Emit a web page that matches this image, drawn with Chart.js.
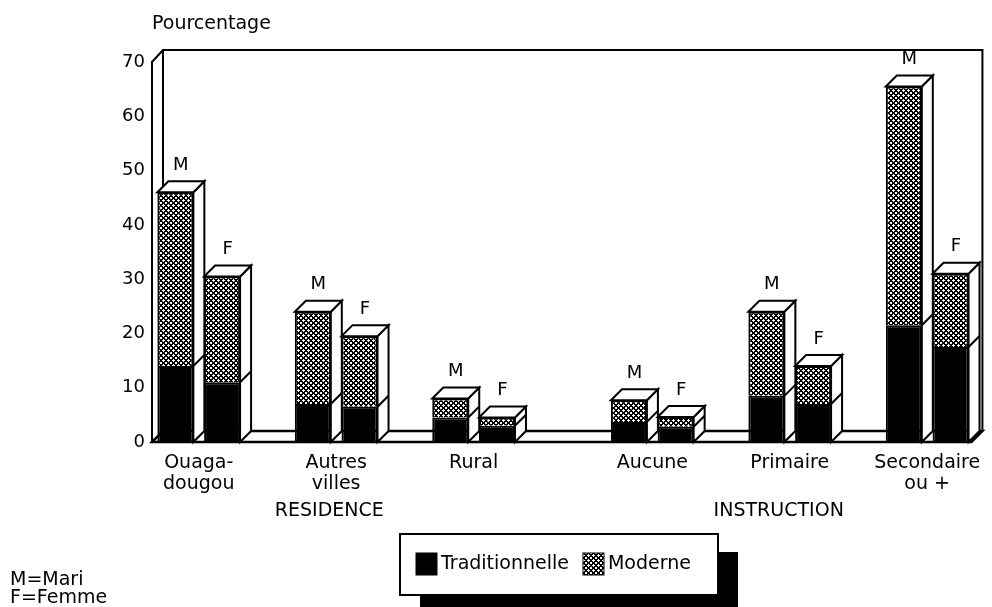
<!DOCTYPE html>
<html>
<head>
<meta charset="utf-8">
<script src="https://cdn.jsdelivr.net/npm/chart.js@4.4.0/dist/chart.umd.min.js"></script>
<style>
  html, body { margin: 0; padding: 0; background: #fff; }
  #cadre { width: 992px; height: 607px; }
</style>
</head>
<body>
<div id="cadre"><canvas id="id-grafico" width="992" height="607"></canvas></div>
<script>
// categories: 3 de residence, 3 d'instruction
const categorias = [['Ouaga-', 'dougou'], ['Autres', 'villes'], 'Rural', 'Aucune', 'Primaire', ['Secondaire', 'ou +']];
const tradMari   = [14, 7, 4.5, 3.7, 8.5, 21.5];
const modMari    = [32, 17, 3.5, 4, 15.5, 44];
const tradFemme  = [11, 6.5, 3, 2.8, 7, 17.5];
const modFemme   = [19.5, 13, 1.5, 1.8, 7, 13.5];
const etiquetas  = ['M', 'F'];
const leyenda    = ['Traditionnelle', 'Moderne'];
const grupos     = ['RESIDENCE', 'INSTRUCTION'];
const notas      = ['M=Mari', 'F=Femme'];

const FUENTE = 'DejaVu Sans';
const PROF = 11;          // profondeur 3D des barres et des murs

// un petit espace entre les deux blocs de categories
const posiciones = categorias.map((c, i) => i + (i >= 3 ? 0.3 : 0));
const puntos = (arr) => arr.map((v, i) => ({x: posiciones[i], y: v}));

// trame croisee pour "Moderne"
function motif() {
  const n = 5;
  const c = document.createElement('canvas');
  c.width = n; c.height = n;
  const g = c.getContext('2d');
  g.fillStyle = '#fff';
  g.fillRect(0, 0, n, n);
  g.fillStyle = '#000';
  for (let x = 0; x < n; x++) {
    for (let y = 0; y < n; y++) {
      if ((x + y) % n < 2 || (x - y + n) % n < 2) g.fillRect(x, y, 1, 1);
    }
  }
  return g.createPattern(c, 'repeat');
}
const trama = motif();

const murs = {
  id: 'murs',
  beforeDatasetsDraw(chart) {
    const ctx = chart.ctx;
    const a = chart.chartArea;
    ctx.save();
    ctx.strokeStyle = '#000';
    ctx.lineWidth = 2;
    // mur du fond + mur gauche
    ctx.beginPath();
    ctx.moveTo(a.left, a.bottom);
    ctx.lineTo(a.left, a.top);
    ctx.lineTo(a.left + PROF, a.top - PROF - 1);
    ctx.lineTo(a.right + PROF, a.top - PROF - 1);
    ctx.lineTo(a.right + PROF, a.bottom - PROF);
    ctx.moveTo(a.left + PROF, a.top - PROF - 1);
    ctx.lineTo(a.left + PROF, a.bottom - PROF);
    ctx.stroke();
    // plancher
    ctx.beginPath();
    ctx.moveTo(a.left, a.bottom);
    ctx.lineTo(a.right, a.bottom);
    ctx.lineTo(a.right + PROF, a.bottom - PROF);
    ctx.lineTo(a.left + PROF, a.bottom - PROF);
    ctx.closePath();
    ctx.fillStyle = '#fff';
    ctx.fill();
    ctx.lineWidth = 2.5;
    ctx.stroke();
    ctx.restore();
  },
  afterDatasetsDraw(chart) {
    const ctx = chart.ctx;
    ctx.save();
    ctx.strokeStyle = '#000';
    ctx.lineWidth = 2;
    [[0, 1], [2, 3]].forEach((par, k) => {
      const bajo = chart.getDatasetMeta(par[0]).data;
      const alto = chart.getDatasetMeta(par[1]).data;
      alto.forEach((b, i) => {
        const t = bajo[i];
        const L = b.x - b.width / 2, R = b.x + b.width / 2;
        const top = b.y, mid = t.y, base = t.base;
        // face laterale
        ctx.beginPath();
        ctx.moveTo(R, top);
        ctx.lineTo(R + PROF, top - PROF);
        ctx.lineTo(R + PROF, base - PROF);
        ctx.lineTo(R, base);
        ctx.closePath();
        ctx.fillStyle = '#fff';
        ctx.fill();
        ctx.stroke();
        ctx.beginPath();
        ctx.moveTo(R, mid);
        ctx.lineTo(R + PROF, mid - PROF);
        ctx.stroke();
        // dessus
        ctx.beginPath();
        ctx.moveTo(L, top);
        ctx.lineTo(L + PROF, top - PROF);
        ctx.lineTo(R + PROF, top - PROF);
        ctx.lineTo(R, top);
        ctx.closePath();
        ctx.fill();
        ctx.stroke();
        // M / F
        ctx.fillStyle = '#000';
        ctx.font = '18px "' + FUENTE + '"';
        ctx.textAlign = 'center';
        ctx.textBaseline = 'middle';
        ctx.fillText(etiquetas[k], b.x + PROF / 2, top - PROF - 16);
      });
    });
    ctx.restore();
  },
  afterDraw(chart) {
    const ctx = chart.ctx;
    const xs = chart.scales.x;
    ctx.save();
    ctx.fillStyle = '#000';
    ctx.textBaseline = 'middle';
    ctx.textAlign = 'left';
    ctx.font = '19px "' + FUENTE + '"';
    ctx.fillText('Pourcentage', chart.chartArea.left, 24);

    ctx.textAlign = 'center';
    ctx.fillText(grupos[0], xs.getPixelForValue(0.95), 511);
    ctx.fillText(grupos[1], xs.getPixelForValue(4.22), 511);

    ctx.textAlign = 'left';
    ctx.fillText(notas[0], 10, 580);
    ctx.fillText(notas[1], 10, 598);

    // legende avec ombre
    const bx = 400, by = 534, bw = 318, bh = 61;
    ctx.fillStyle = '#000';
    ctx.fillRect(bx + 20, by + 18, bw, bh);
    ctx.fillStyle = '#fff';
    ctx.fillRect(bx, by, bw, bh);
    ctx.strokeStyle = '#000';
    ctx.lineWidth = 2;
    ctx.strokeRect(bx, by, bw, bh);
    const rellenos = ['#000', trama];
    let x = bx + 16;
    const cy = by + 30;
    leyenda.forEach((txt, i) => {
      ctx.fillStyle = rellenos[i];
      ctx.fillRect(x, cy - 11, 21, 22);
      ctx.lineWidth = 1;
      ctx.strokeRect(x, cy - 11, 21, 22);
      x += 25;
      ctx.fillStyle = '#000';
      ctx.fillText(txt, x, cy);
      x += ctx.measureText(txt).width + 14;
    });
    ctx.restore();
  }
};

const barra = {
  borderColor: '#000',
  borderWidth: 2,
  categoryPercentage: 0.68,
  barPercentage: 0.77
};

new Chart('id-grafico', {
  type: 'bar',
  data: {
    datasets: [
      Object.assign({label: leyenda[0], data: puntos(tradMari), stack: 'M', backgroundColor: '#000'}, barra),
      Object.assign({label: leyenda[1], data: puntos(modMari), stack: 'M', backgroundColor: trama}, barra),
      Object.assign({label: leyenda[0], data: puntos(tradFemme), stack: 'F', backgroundColor: '#000'}, barra),
      Object.assign({label: leyenda[1], data: puntos(modFemme), stack: 'F', backgroundColor: trama}, barra)
    ]
  },
  options: {
    responsive: false,
    animation: false,
    layout: {padding: {top: 62, right: 16, left: 0, bottom: 0}},
    plugins: {legend: {display: false}, tooltip: {enabled: false}},
    scales: {
      x: {
        type: 'linear',
        stacked: true,
        offset: false,
        bounds: 'data',
        min: -0.34,
        max: 5.622,
        grid: {display: false, drawTicks: false},
        border: {display: false},
        afterBuildTicks: (s) => { s.ticks = posiciones.map(v => ({value: v})); },
        afterFit: (s) => { s.height = 165; },
        ticks: {
          autoSkip: false,
          maxRotation: 0,
          padding: 11,
          color: '#000',
          font: {family: FUENTE, size: 19, lineHeight: 1.1},
          callback: (v, i) => categorias[i]
        }
      },
      y: {
        stacked: true,
        min: 0,
        max: 70,
        grid: {display: false, drawTicks: false},
        border: {display: false},
        afterFit: (s) => { s.width = 152; },
        ticks: {
          stepSize: 10,
          padding: 7,
          color: '#000',
          font: {family: FUENTE, size: 18}
        }
      }
    }
  },
  plugins: [murs]
});
</script>
</body>
</html>
